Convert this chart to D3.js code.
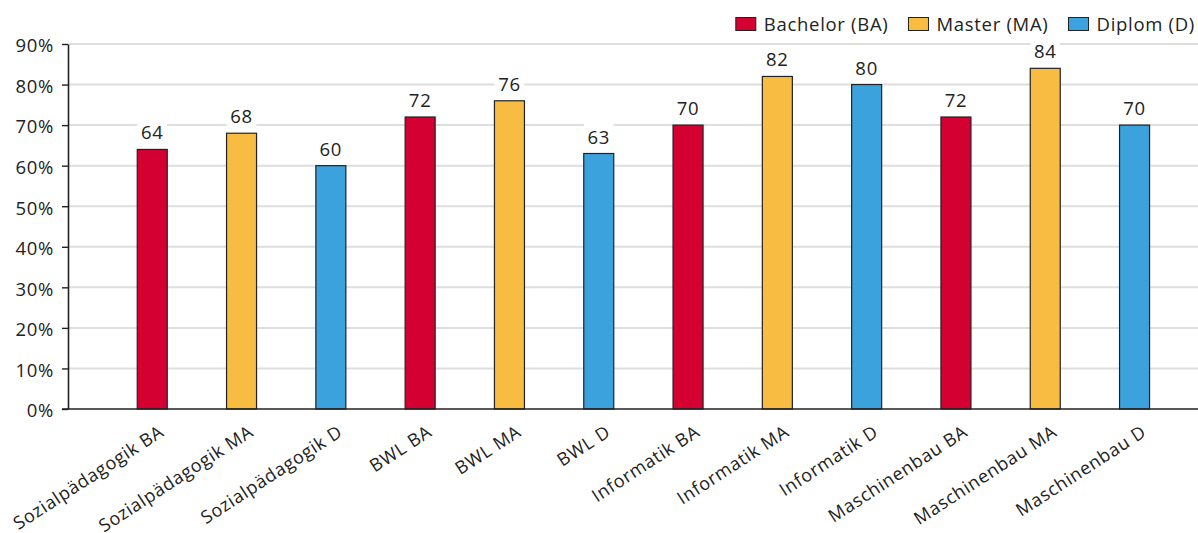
<!DOCTYPE html>
<html>
<head>
<meta charset="utf-8">
<script src="https://cdn.jsdelivr.net/npm/d3@7"></script>
<style>
  html, body { margin: 0; padding: 0; background: #fff; }
  svg { display: block; }
  text { font-family: "Open Sans", "Noto Sans", sans-serif; fill: #222; letter-spacing: 0.7px; }
</style>
</head>
<body>
<svg id="chart" width="1198" height="533"></svg>
<script>
// Share of graduates per study programme and degree type
const categories = [
  "Sozialpädagogik BA", "Sozialpädagogik MA", "Sozialpädagogik D",
  "BWL BA", "BWL MA", "BWL D",
  "Informatik BA", "Informatik MA", "Informatik D",
  "Maschinenbau BA", "Maschinenbau MA", "Maschinenbau D"
];
const degrees = ["BA", "MA", "D", "BA", "MA", "D", "BA", "MA", "D", "BA", "MA", "D"];
const values = [64, 68, 60, 72, 76, 63, 70, 82, 80, 72, 84, 70];
const legendKeys = ["BA", "MA", "D"];
const legendLabels = ["Bachelor (BA)", "Master (MA)", "Diplom (D)"];
const yTicks = [0, 10, 20, 30, 40, 50, 60, 70, 80, 90];

const colors = { BA: "#d40032", MA: "#f9bc42", D: "#3ca2dd" };

const plot = { left: 68, right: 1198, top: 44, bottom: 409 };

const svg = d3.select("#chart");

const x = d3.scaleBand()
  .domain(categories)
  .range([107.6, 1179.2])
  .paddingInner(0.664)
  .paddingOuter(0.332);

const y = d3.scaleLinear()
  .domain([0, 90])
  .range([plot.bottom, plot.top]);

// horizontal gridlines
svg.append("g")
  .selectAll("line")
  .data(yTicks.filter(d => d > 0))
  .join("line")
  .attr("x1", plot.left)
  .attr("x2", plot.right)
  .attr("y1", d => y(d))
  .attr("y2", d => y(d))
  .attr("stroke", "#dedede")
  .attr("stroke-width", 2);

// y axis
const yAxis = svg.append("g")
  .attr("transform", `translate(${plot.left},0)`)
  .call(d3.axisLeft(y).tickValues(yTicks).tickFormat(d => d + "%").tickSize(6).tickPadding(8).tickSizeOuter(0));
yAxis.select(".domain").attr("stroke", "#222").attr("stroke-width", 1.6);
yAxis.selectAll(".tick line").attr("stroke", "#222").attr("stroke-width", 1.4);
yAxis.selectAll(".tick text")
  .attr("font-size", 18.5)
  .attr("font-family", null)
  .attr("fill", "#222")
  .attr("dy", "0.42em");

// bars
svg.append("g")
  .selectAll("rect")
  .data(categories)
  .join("rect")
  .attr("x", d => x(d))
  .attr("width", x.bandwidth())
  .attr("y", (d, i) => y(values[i]))
  .attr("height", (d, i) => plot.bottom - y(values[i]))
  .attr("fill", (d, i) => colors[degrees[i]])
  .attr("stroke", "#222")
  .attr("stroke-width", 1.2);

// x axis baseline
svg.append("line")
  .attr("x1", plot.left - 6)
  .attr("x2", plot.right)
  .attr("y1", plot.bottom)
  .attr("y2", plot.bottom)
  .attr("stroke", "#222")
  .attr("stroke-width", 1.6);

// value labels on white boxes
const labels = svg.append("g")
  .selectAll("g")
  .data(categories)
  .join("g")
  .attr("transform", (d, i) => `translate(${x(d) + x.bandwidth() / 2},${y(values[i]) - 10})`);
labels.append("rect").attr("fill", "#fff");
labels.append("text")
  .attr("text-anchor", "middle")
  .attr("font-size", 18.5)
  .text((d, i) => values[i]);
labels.each(function () {
  const g = d3.select(this);
  const bb = g.select("text").node().getBBox();
  g.select("rect")
    .attr("x", bb.x - 3.5)
    .attr("y", bb.y)
    .attr("width", bb.width + 7)
    .attr("height", bb.height);
});

// rotated category labels
svg.append("g")
  .selectAll("text")
  .data(categories)
  .join("text")
  .attr("text-anchor", "end")
  .attr("font-size", 18)
  .attr("transform", d => `translate(${x(d) + x.bandwidth() / 2 + 13},${plot.bottom + 26}) rotate(-33)`)
  .text(d => d);

// legend, right aligned
const legend = svg.append("g");
const items = legend.selectAll("g")
  .data(legendKeys)
  .join("g");
items.append("rect")
  .attr("width", 20)
  .attr("height", 13)
  .attr("y", 17.5)
  .attr("fill", d => colors[d])
  .attr("stroke", "#222")
  .attr("stroke-width", 1);
items.append("text")
  .attr("x", 28)
  .attr("y", 30.5)
  .attr("font-size", 18.5)
  .text((d, i) => legendLabels[i]);
let cursor = 1195;
const nodes = items.nodes();
for (let i = nodes.length - 1; i >= 0; i--) {
  const w = d3.select(nodes[i]).select("text").node().getComputedTextLength();
  cursor -= 28 + w;
  d3.select(nodes[i]).attr("transform", `translate(${cursor},0)`);
  cursor -= 20;
}
</script>
</body>
</html>
